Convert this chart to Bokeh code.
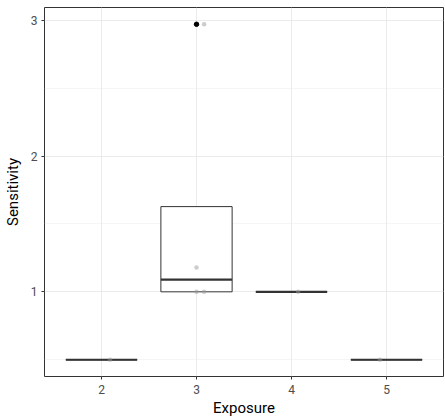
import numpy as np
from bokeh.plotting import figure
from bokeh.models import Range1d, FixedTicker
from bokeh.embed import file_html
from bokeh.resources import INLINE

# data
categories = [2, 3, 4, 5]
group_values = {
    2: [0.5],
    3: [1.0, 1.0, 1.18, 2.97],
    4: [1.0],
    5: [0.5],
}
# jittered point offsets
pt_exposure = [2, 3, 3, 3, 3, 4, 5]
pt_value = [0.5, 1.0, 1.0, 1.18, 2.97, 1.0, 0.5]
pt_jitter = [0.09, 0.0, 0.08, 0.0, 0.08, 0.07, -0.07]

FONT = "Roboto"
GRID = "#EBEBEB"
DARK = "#333333"

ymin = min(pt_value); ymax = max(pt_value)
pad = (ymax - ymin) * 0.05

p = figure(output_backend="svg", toolbar_location=None,
           x_range=Range1d(1.4, 5.6), y_range=Range1d(ymin - pad, ymax + pad),
           frame_width=399, frame_height=369,
           min_border_left=40, min_border_right=2, min_border_top=7, min_border_bottom=40)
p.background_fill_color = "white"
p.border_fill_color = "white"
p.outline_line_color = DARK
p.outline_line_width = 1

p.xaxis.ticker = FixedTicker(ticks=categories)
p.yaxis.ticker = FixedTicker(ticks=[1, 2, 3], minor_ticks=[0.5, 1.5, 2.5])
p.xgrid.ticker = FixedTicker(ticks=categories)
for g in (p.xgrid, p.ygrid):
    g.grid_line_color = GRID
    g.grid_line_width = 1
p.ygrid.minor_grid_line_color = GRID
p.ygrid.minor_grid_line_width = 0.5

for ax in (p.xaxis, p.yaxis):
    ax.axis_line_color = None
    ax.major_tick_line_color = DARK
    ax.major_tick_out = 3
    ax.major_tick_in = 0
    ax.minor_tick_line_color = None
    ax.major_label_text_font = FONT
    ax.major_label_text_font_size = "12px"
    ax.major_label_text_color = "#4D4D4D"
    ax.axis_label_text_font = FONT
    ax.axis_label_text_font_size = "15px"
    ax.axis_label_text_font_style = "normal"
    ax.axis_label_text_color = "black"
    ax.major_label_standoff = 3
    ax.axis_label_standoff = 4
p.xaxis.major_label_standoff = 5
p.xaxis.axis_label_standoff = 2
p.yaxis.axis_label_standoff = 6
p.xaxis.axis_label = "Exposure"
p.yaxis.axis_label = "Sensitivity"

# boxplot stats
bw = 0.75
lefts, rights, q1s, q3s, meds = [], [], [], [], []
wx, wlo, whi = [], [], []
ox, oy = [], []
for c in categories:
    v = np.array(group_values[c])
    q1, med, q3 = np.percentile(v, [25, 50, 75])
    iqr = q3 - q1
    inside = v[(v >= q1 - 1.5 * iqr) & (v <= q3 + 1.5 * iqr)]
    lo, hi = inside.min(), inside.max()
    lefts.append(c - bw / 2); rights.append(c + bw / 2)
    q1s.append(q1); q3s.append(q3); meds.append(med)
    wx.append(c); wlo.append(lo); whi.append(hi)
    for o in v[(v < q1 - 1.5 * iqr) | (v > q3 + 1.5 * iqr)]:
        ox.append(c); oy.append(o)

p.segment(x0=wx, y0=q3s, x1=wx, y1=whi, line_color=DARK, line_width=1)
p.segment(x0=wx, y0=wlo, x1=wx, y1=q1s, line_color=DARK, line_width=1)
p.quad(left=lefts, right=rights, bottom=q1s, top=q3s, fill_color="white",
       line_color=DARK, line_width=1)
p.segment(x0=lefts, y0=meds, x1=rights, y1=meds, line_color=DARK, line_width=2.2)
p.scatter(x=ox, y=oy, size=4.5, fill_color="black", line_color="black")

px = [e + j for e, j in zip(pt_exposure, pt_jitter)]
p.scatter(x=px, y=pt_value, size=4.5, fill_color="#999999", line_color=None, fill_alpha=0.5)

open("out.html", "w").write(file_html(p, INLINE))
